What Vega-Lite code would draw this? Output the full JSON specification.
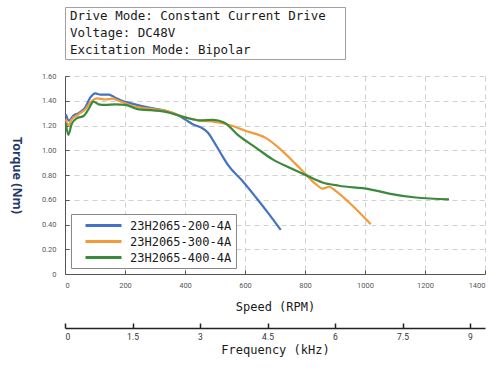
{
  "$schema": "https://vega.github.io/schema/vega-lite/v6.json",
  "background": "white",
  "padding": {"left": 9, "top": 6, "right": 10, "bottom": 5},
  "bounds": "flush",
  "spacing": 17,
  "resolve": {"legend": {"color": "independent"}},
  "datasets": {
    "info": [
      {"line": 1, "text": "Drive Mode: Constant Current Drive"},
      {"line": 2, "text": "Voltage: DC48V"},
      {"line": 3, "text": "Excitation Mode: Bipolar"}
    ],
    "curves": [
      {"s": "23H2065-200-4A", "rpm": 3, "t": 1.29},
      {"s": "23H2065-200-4A", "rpm": 13, "t": 1.24},
      {"s": "23H2065-200-4A", "rpm": 28, "t": 1.28},
      {"s": "23H2065-200-4A", "rpm": 45, "t": 1.30},
      {"s": "23H2065-200-4A", "rpm": 67, "t": 1.345},
      {"s": "23H2065-200-4A", "rpm": 84, "t": 1.425},
      {"s": "23H2065-200-4A", "rpm": 101, "t": 1.46},
      {"s": "23H2065-200-4A", "rpm": 118, "t": 1.45},
      {"s": "23H2065-200-4A", "rpm": 146, "t": 1.45},
      {"s": "23H2065-200-4A", "rpm": 168, "t": 1.425},
      {"s": "23H2065-200-4A", "rpm": 190, "t": 1.40},
      {"s": "23H2065-200-4A", "rpm": 224, "t": 1.377},
      {"s": "23H2065-200-4A", "rpm": 280, "t": 1.345},
      {"s": "23H2065-200-4A", "rpm": 336, "t": 1.318},
      {"s": "23H2065-200-4A", "rpm": 370, "t": 1.29},
      {"s": "23H2065-200-4A", "rpm": 403, "t": 1.245},
      {"s": "23H2065-200-4A", "rpm": 426, "t": 1.21},
      {"s": "23H2065-200-4A", "rpm": 454, "t": 1.183},
      {"s": "23H2065-200-4A", "rpm": 476, "t": 1.143},
      {"s": "23H2065-200-4A", "rpm": 498, "t": 1.062},
      {"s": "23H2065-200-4A", "rpm": 521, "t": 0.968},
      {"s": "23H2065-200-4A", "rpm": 545, "t": 0.875},
      {"s": "23H2065-200-4A", "rpm": 591, "t": 0.753},
      {"s": "23H2065-200-4A", "rpm": 636, "t": 0.62},
      {"s": "23H2065-200-4A", "rpm": 680, "t": 0.484},
      {"s": "23H2065-200-4A", "rpm": 719, "t": 0.357},

      {"s": "23H2065-300-4A", "rpm": 3, "t": 1.25},
      {"s": "23H2065-300-4A", "rpm": 11, "t": 1.20},
      {"s": "23H2065-300-4A", "rpm": 22, "t": 1.25},
      {"s": "23H2065-300-4A", "rpm": 45, "t": 1.29},
      {"s": "23H2065-300-4A", "rpm": 67, "t": 1.33},
      {"s": "23H2065-300-4A", "rpm": 90, "t": 1.40},
      {"s": "23H2065-300-4A", "rpm": 106, "t": 1.42},
      {"s": "23H2065-300-4A", "rpm": 134, "t": 1.41},
      {"s": "23H2065-300-4A", "rpm": 157, "t": 1.417},
      {"s": "23H2065-300-4A", "rpm": 179, "t": 1.40},
      {"s": "23H2065-300-4A", "rpm": 224, "t": 1.358},
      {"s": "23H2065-300-4A", "rpm": 280, "t": 1.336},
      {"s": "23H2065-300-4A", "rpm": 336, "t": 1.318},
      {"s": "23H2065-300-4A", "rpm": 403, "t": 1.264},
      {"s": "23H2065-300-4A", "rpm": 448, "t": 1.240},
      {"s": "23H2065-300-4A", "rpm": 500, "t": 1.230},
      {"s": "23H2065-300-4A", "rpm": 540, "t": 1.21},
      {"s": "23H2065-300-4A", "rpm": 602, "t": 1.157},
      {"s": "23H2065-300-4A", "rpm": 669, "t": 1.10},
      {"s": "23H2065-300-4A", "rpm": 724, "t": 0.995},
      {"s": "23H2065-300-4A", "rpm": 769, "t": 0.888},
      {"s": "23H2065-300-4A", "rpm": 802, "t": 0.807},
      {"s": "23H2065-300-4A", "rpm": 836, "t": 0.726},
      {"s": "23H2065-300-4A", "rpm": 860, "t": 0.69},
      {"s": "23H2065-300-4A", "rpm": 880, "t": 0.705},
      {"s": "23H2065-300-4A", "rpm": 902, "t": 0.672},
      {"s": "23H2065-300-4A", "rpm": 947, "t": 0.578},
      {"s": "23H2065-300-4A", "rpm": 1019, "t": 0.403},

      {"s": "23H2065-400-4A", "rpm": 3, "t": 1.22},
      {"s": "23H2065-400-4A", "rpm": 11, "t": 1.125},
      {"s": "23H2065-400-4A", "rpm": 22, "t": 1.21},
      {"s": "23H2065-400-4A", "rpm": 39, "t": 1.258},
      {"s": "23H2065-400-4A", "rpm": 62, "t": 1.277},
      {"s": "23H2065-400-4A", "rpm": 78, "t": 1.33},
      {"s": "23H2065-400-4A", "rpm": 95, "t": 1.393},
      {"s": "23H2065-400-4A", "rpm": 112, "t": 1.371},
      {"s": "23H2065-400-4A", "rpm": 134, "t": 1.366},
      {"s": "23H2065-400-4A", "rpm": 168, "t": 1.371},
      {"s": "23H2065-400-4A", "rpm": 202, "t": 1.366},
      {"s": "23H2065-400-4A", "rpm": 246, "t": 1.33},
      {"s": "23H2065-400-4A", "rpm": 280, "t": 1.325},
      {"s": "23H2065-400-4A", "rpm": 336, "t": 1.31},
      {"s": "23H2065-400-4A", "rpm": 403, "t": 1.264},
      {"s": "23H2065-400-4A", "rpm": 448, "t": 1.242},
      {"s": "23H2065-400-4A", "rpm": 493, "t": 1.245},
      {"s": "23H2065-400-4A", "rpm": 530, "t": 1.225},
      {"s": "23H2065-400-4A", "rpm": 580, "t": 1.116},
      {"s": "23H2065-400-4A", "rpm": 636, "t": 1.022},
      {"s": "23H2065-400-4A", "rpm": 691, "t": 0.928},
      {"s": "23H2065-400-4A", "rpm": 747, "t": 0.86},
      {"s": "23H2065-400-4A", "rpm": 802, "t": 0.80},
      {"s": "23H2065-400-4A", "rpm": 858, "t": 0.74},
      {"s": "23H2065-400-4A", "rpm": 913, "t": 0.713},
      {"s": "23H2065-400-4A", "rpm": 1013, "t": 0.686},
      {"s": "23H2065-400-4A", "rpm": 1080, "t": 0.65},
      {"s": "23H2065-400-4A", "rpm": 1169, "t": 0.618},
      {"s": "23H2065-400-4A", "rpm": 1280, "t": 0.603}
    ],
    "freq": [{"f": 0}, {"f": 9.333}]
  },
  "vconcat": [
    {
      "width": 280,
      "height": 52,
      "view": {"stroke": "#a0a0a0", "strokeWidth": 1},
      "data": {"name": "info"},
      "mark": {"type": "text", "align": "left", "baseline": "middle", "font": "DejaVu Sans Mono", "fontSize": 12.5, "color": "#1a1a1a", "dx": 5},
      "encoding": {
        "y": {"field": "line", "type": "ordinal", "axis": null, "scale": {"paddingOuter": 0.1}},
        "x": {"datum": 0, "type": "quantitative", "scale": {"domain": [0, 1]}, "axis": null},
        "text": {"field": "text"}
      }
    },
    {
      "width": 420,
      "height": 198,
      "view": {"stroke": null},
      "layer": [
        {
          "data": {"name": "curves"},
          "mark": {"type": "line", "interpolate": "monotone", "strokeWidth": 2.2},
          "encoding": {
            "x": {
              "field": "rpm", "type": "quantitative",
              "scale": {"domain": [0, 1400], "nice": false},
              "axis": {
                "values": [0, 200, 400, 600, 800, 1000, 1200, 1400],
                "labelExpr": "format(datum.value, 'd')",
                "title": "Speed (RPM)",
                "titleFont": "DejaVu Sans Mono", "titleFontSize": 12, "titleFontWeight": "normal", "titleColor": "#1a1a1a", "titlePadding": 13,
                "labelFont": "Roboto", "labelFontSize": 7.5, "labelColor": "#595959", "labelPadding": 11,
                "domainColor": "#555555", "tickColor": "#555555", "tickSize": -4,
                "grid": true, "gridDash": [5, 4], "gridColor": "#d0d0d0"
              }
            },
            "y": {
              "field": "t", "type": "quantitative",
              "scale": {"domain": [0, 1.6], "nice": false},
              "axis": {
                "values": [0, 0.2, 0.4, 0.6, 0.8, 1.0, 1.2, 1.4, 1.6],
                "labelExpr": "datum.value == 0 ? '0' : format(datum.value, '.2f')",
                "title": "Torque (Nm)",
                "titleAngle": 90, "titleFont": "Noto Sans", "titleFontSize": 12.5, "titleFontWeight": "bold", "titleColor": "#1f3a6b", "titlePadding": 32,
                "labelFont": "Roboto", "labelFontSize": 7.5, "labelColor": "#595959", "labelPadding": 13,
                "domainColor": "#555555", "tickColor": "#555555", "tickSize": -4,
                "grid": true, "gridDash": [5, 4], "gridColor": "#d0d0d0"
              }
            },
            "color": {
              "field": "s", "type": "nominal",
              "scale": {"domain": ["23H2065-200-4A", "23H2065-300-4A", "23H2065-400-4A"], "range": ["#4472c4", "#f39a3a", "#3a8a3e"]},
              "legend": {
                "title": null, "orient": "bottom-left", "offset": 6,
                "symbolType": "M0.5,0H6.5", "symbolStrokeWidth": 3, "symbolSize": 144,
                "labelOffset": 40,
                "labelFont": "DejaVu Sans Mono", "labelFontSize": 12, "labelColor": "#1a1a1a",
                "strokeColor": "#888888", "fillColor": "white", "padding": 4, "rowPadding": 2
              }
            }
          }
        },
        {
          "data": {"name": "freq"},
          "mark": {"type": "point", "opacity": 0},
          "encoding": {
            "x": {
              "field": "f", "type": "quantitative",
              "scale": {"domain": [0, 9.333], "nice": false},
              "axis": {
                "orient": "bottom", "offset": 54,
                "values": [0, 1.5, 3, 4.5, 6, 7.5, 9],
                "labelExpr": "format(datum.value, '~g')",
                "title": "Frequency (kHz)",
                "titleFont": "DejaVu Sans Mono", "titleFontSize": 12, "titleFontWeight": "normal", "titleColor": "#1a1a1a", "titlePadding": 4,
                "labelFont": "Roboto", "labelFontSize": 8.5, "labelColor": "#333333", "labelPadding": 9,
                "domainColor": "#222222", "domainWidth": 1.3, "tickColor": "#222222", "tickWidth": 1.5, "tickSize": -5,
                "grid": false
              }
            }
          }
        }
      ],
      "resolve": {"scale": {"x": "independent"}}
    }
  ]
}
